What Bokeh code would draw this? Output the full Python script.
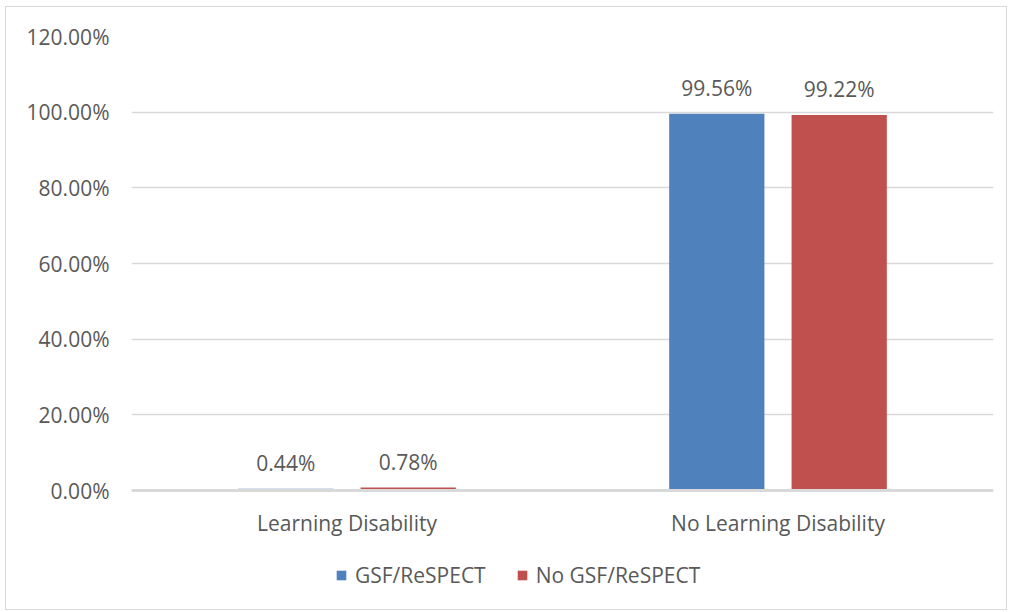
from bokeh.plotting import figure
from bokeh.models import (ColumnDataSource, FactorRange, Legend, LegendItem,
                          PrintfTickFormatter, FixedTicker, Span)
from bokeh.transform import dodge
from bokeh.core.properties import value
from bokeh.embed import file_html
from bokeh.resources import INLINE

categories = ["Learning Disability", "No Learning Disability"]
gsf = [0.44, 99.56]
no_gsf = [0.78, 99.22]
gsf_labels = ["0.44%", "99.56%"]
no_gsf_labels = ["0.78%", "99.22%"]
y_ticks = [0, 20, 40, 60, 80, 100, 120]

BLUE = "#4F81BD"
RED = "#C0504D"
GRID = "#D9D9D9"
TXT = "#595959"
FONT = "Open Sans"
FS = "21px"

src = ColumnDataSource(dict(cat=categories, gsf=gsf, no_gsf=no_gsf,
                            gl=gsf_labels, nl=no_gsf_labels))

# The frame extends below zero to leave room for category labels and legend
p = figure(x_range=FactorRange(*categories), y_range=(-31.45, 120),
           x_axis_location=None,
           frame_width=862, frame_height=573,
           min_border_left=125, min_border_right=13, min_border_top=29, min_border_bottom=0,
           output_backend="svg", toolbar_location=None)
p.margin = (6, 0, 0, 5)
p.styles = {"border": "1.5px solid #D9D9D9"}
p.outline_line_color = None
p.background_fill_color = "white"
p.border_fill_color = "white"
p.x_range.range_padding = 0.0

r1 = p.vbar(x=dodge("cat", -0.142, range=p.x_range), top="gsf", width=0.221,
            source=src, fill_color=BLUE, line_color=None)
r2 = p.vbar(x=dodge("cat", 0.142, range=p.x_range), top="no_gsf", width=0.221,
            source=src, fill_color=RED, line_color=None)

# category axis baseline drawn above bars
p.add_layout(Span(location=0, dimension="width", line_color=GRID, line_width=3))

# data labels
p.text(x=dodge("cat", -0.142, range=p.x_range), y="gsf", text="gl", source=src,
       text_align="center", text_baseline="middle", y_offset=-26,
       text_font=value(FONT), text_font_size=FS, text_color=TXT)
p.text(x=dodge("cat", 0.142, range=p.x_range), y="no_gsf", text="nl", source=src,
       text_align="center", text_baseline="middle", y_offset=-26,
       text_font=value(FONT), text_font_size=FS, text_color=TXT)

# category labels below the baseline
cat_src = ColumnDataSource(dict(cat=categories, base=[0] * len(categories)))
p.text(x="cat", y="base", text="cat", source=cat_src,
       text_align="center", text_baseline="middle", y_offset=32,
       text_font=value(FONT), text_font_size=FS, text_color=TXT)

p.xgrid.grid_line_color = None
p.ygrid.grid_line_color = GRID
p.ygrid.grid_line_width = 1.5
p.ygrid.ticker = FixedTicker(ticks=y_ticks)
p.yaxis.ticker = FixedTicker(ticks=y_ticks)
p.yaxis.formatter = PrintfTickFormatter(format="%.2f%%")
p.yaxis.axis_line_color = None
p.yaxis.major_tick_line_color = None
p.yaxis.minor_tick_line_color = None
p.yaxis.major_tick_out = 0
p.yaxis.major_label_standoff = 22
p.yaxis.major_label_text_font = FONT
p.yaxis.major_label_text_font_size = FS
p.yaxis.major_label_text_color = TXT

legend = Legend(items=[LegendItem(label="GSF/ReSPECT", renderers=[r1]),
                       LegendItem(label="No GSF/ReSPECT", renderers=[r2])],
                orientation="horizontal", location=(204, 20),
                label_text_font=FONT, label_text_font_size=FS, label_text_color=TXT,
                glyph_width=12, glyph_height=12, spacing=30, label_standoff=8,
                border_line_color=None, background_fill_alpha=0,
                margin=0, padding=0)
p.add_layout(legend)

open("out.html", "w").write(file_html(p, INLINE))
